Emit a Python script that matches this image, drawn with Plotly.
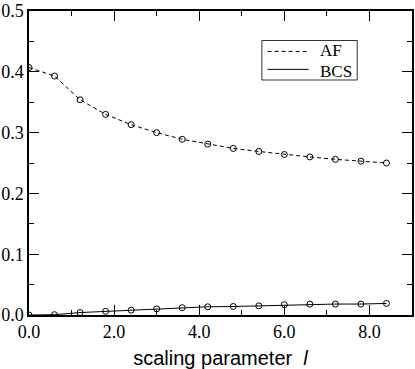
import plotly.graph_objects as go

# scaling parameter l
l_vals = [0.0, 0.6, 1.2, 1.8, 2.4, 3.0, 3.6, 4.2, 4.8, 5.4, 6.0, 6.6, 7.2, 7.8, 8.4]
af = [0.407, 0.393, 0.354, 0.330, 0.313, 0.300, 0.289, 0.281, 0.274, 0.269,
      0.264, 0.260, 0.256, 0.253, 0.250]
bcs = [0.0, 0.0005, 0.004, 0.006, 0.008, 0.010, 0.012, 0.0135, 0.014, 0.015,
       0.017, 0.0178, 0.018, 0.018, 0.019]
series_names = ["AF", "BCS"]

serif = "Liberation Serif, Times New Roman, serif"
sans = "Liberation Sans, Arial, sans-serif"
dashed = "4px,3px"

fig = go.Figure()

# curves with open circle markers
fig.add_trace(go.Scatter(
    x=l_vals, y=af, mode="lines+markers", name=series_names[0], showlegend=False,
    line=dict(color="black", width=1, dash=dashed),
    marker=dict(symbol="circle-open", size=6, color="black", line=dict(width=1))
))
fig.add_trace(go.Scatter(
    x=l_vals, y=bcs, mode="lines+markers", name=series_names[1], showlegend=False,
    line=dict(color="black", width=1),
    marker=dict(symbol="circle-open", size=6, color="black", line=dict(width=1))
))

# legend box drawn in paper coords (plotly's legend rows are too tall here)
fig.add_shape(type="rect", xref="paper", yref="paper",
              x0=0.608, x1=0.857, y0=0.773, y1=0.903,
              line=dict(color="#333", width=1), fillcolor="white", layer="above")
legend_rows = [(series_names[0], dashed, 0.867, 0.8685),
               (series_names[1], "solid", 0.808, 0.8003)]
for name, dash, ly, ty in legend_rows:
    fig.add_shape(type="line", xref="paper", yref="paper",
                  x0=0.623, x1=0.730, y0=ly, y1=ly,
                  line=dict(color="black", width=1, dash=dash), layer="above")
    fig.add_annotation(xref="paper", yref="paper", x=0.756, y=ty,
                       text=name, showarrow=False, xanchor="left", yanchor="middle",
                       borderpad=0,
                       font=dict(family=serif, size=17, color="black"))

fig.update_layout(
    width=415, height=369,
    margin=dict(l=29, r=1, t=8, b=53),
    paper_bgcolor="white", plot_bgcolor="white",
    font=dict(family=serif, size=18, color="black"),
    showlegend=False,
    xaxis=dict(
        range=[0, 9], tickvals=[0, 2, 4, 6, 8], tickformat=".1f",
        tickfont=dict(family=serif, size=18),
        ticks="inside", ticklen=10, tickwidth=1, tickcolor="black",
        minor=dict(ticks="inside", ticklen=5, dtick=1, tickcolor="black"),
        showline=True, linecolor="black", linewidth=1.5, mirror="ticks",
        showgrid=False, zeroline=False, ticklabeloverflow="allow",
        title=dict(text="scaling parameter  <i>l</i>",
                   font=dict(family=sans, size=20), standoff=12),
    ),
    yaxis=dict(
        range=[0, 0.5], tickvals=[0, 0.1, 0.2, 0.3, 0.4, 0.5], tickformat=".1f",
        tickfont=dict(family=serif, size=18),
        ticks="inside", ticklen=10, tickwidth=1, tickcolor="black",
        minor=dict(ticks="inside", ticklen=5, dtick=0.05, tickcolor="black"),
        showline=True, linecolor="black", linewidth=1.5, mirror="ticks",
        showgrid=False, zeroline=False, ticklabeloverflow="allow",
    ),
)

fig.write_html("out.html", config={"displayModeBar": False},
               post_script="document.body.style.margin='0';")
